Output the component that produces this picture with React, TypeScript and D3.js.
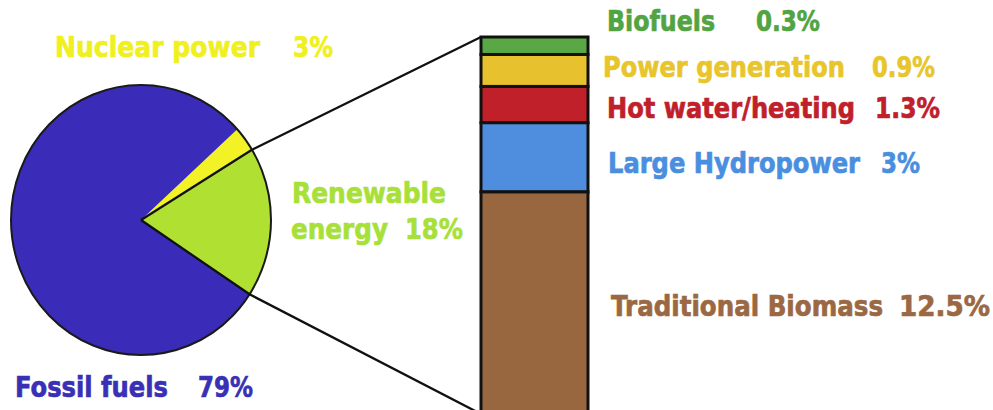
import React from "react";
import * as d3 from "d3";

// World energy consumption shares (%)
const shareLabels = ["Nuclear power", "Renewable energy", "Fossil fuels"];
const shareValues = [3, 18, 79];
const shareColors = ["#f2f226", "#b0e032", "#3a2cb8"];
const shareTextColors = ["#f0f020", "#a8e03a", "#3a30b6"];

// Breakdown of the renewable share (%), top to bottom
const renewableLabels = [
  "Biofuels",
  "Power generation",
  "Hot water/heating",
  "Large Hydropower",
  "Traditional Biomass",
];
const renewableValues = [0.3, 0.9, 1.3, 3, 12.5];
const renewableColors = ["#5aa845", "#e8c22e", "#c0202a", "#4f8ede", "#98673f"];
const renewableTextColors = ["#52a442", "#e8c52a", "#c0202a", "#4a8ee0", "#9a6843"];

const W = 993;
const H = 410;

// label layout: [x, width, baseline]
const shareLabelLayout: Record<string, number[][]> = {
  "Nuclear power": [[55, 205, 57]],
  "Renewable energy": [
    [292, 154, 203],
    [291, 97, 239],
  ],
  "Fossil fuels": [[15, 153, 397]],
};
const shareValueLayout = [
  [293, 40, 57],
  [405, 58, 239],
  [198, 55, 397],
];
// [name x, name width, value x, value width, baseline]
const renewableLabelLayout = [
  [607, 108, 756, 64, 31],
  [603, 242, 872, 63, 77],
  [607, 248, 875, 65, 118],
  [608, 252, 881, 39, 173],
  [611, 272, 899, 91, 316],
];

const FONT = "'DejaVu Sans', Verdana, sans-serif";
const FONT_SIZE = 24;
const V_STRETCH = 1.15;

function Label({ x, y, w, children }: { x: number; y: number; w: number; children: React.ReactNode }) {
  return (
    <text
      transform={`translate(${x},${y}) scale(1,${V_STRETCH})`}
      textLength={w}
      lengthAdjust="spacingAndGlyphs"
    >
      {children}
    </text>
  );
}

export default function App() {
  // pie geometry
  const cx = 141;
  const cy = 220;
  const r = 130;
  const yStretch = 135 / 130;

  const total = d3.sum(shareValues);
  const renewableIdx = 1;
  const renewableSpan = (shareValues[renewableIdx] / total) * 2 * Math.PI;
  // centre the renewable wedge just below 3 o'clock
  const renewableMid = Math.PI / 2 + (1 * Math.PI) / 180;
  const start = renewableMid - renewableSpan / 2 - (shareValues[0] / total) * 2 * Math.PI;

  const pie = d3
    .pie<number>()
    .sort(null)
    .startAngle(start)
    .endAngle(start + 2 * Math.PI);
  const arcs = pie(shareValues);
  const arcGen = d3.arc<d3.PieArcDatum<number>>().innerRadius(0).outerRadius(r);

  const ren = arcs[renewableIdx];
  const rim = (a: number) => [cx + r * Math.sin(a), cy - r * Math.cos(a) * yStretch];
  const rimTop = rim(ren.startAngle);
  const rimBottom = rim(ren.endAngle);

  // stacked bar for the renewable breakdown
  const barX = 481;
  const barW = 107;
  const barTop = 37;
  const barBottom = 414;
  const cumulative = d3.cumsum(renewableValues);
  const y = d3
    .scalePow()
    .exponent(0.75)
    .domain([0, d3.sum(renewableValues)])
    .range([barTop, barBottom]);
  const segments = renewableValues.map((v, i) => ({
    y0: y(cumulative[i] - v),
    y1: y(cumulative[i]),
    color: renewableColors[i],
  }));

  const pct = (v: number) => `${v}%`;

  return (
    <svg
      width={W}
      height={H}
      viewBox={`0 0 ${W} ${H}`}
      style={{ position: "absolute", left: 0, top: 0, background: "#fff" }}
    >
      {/* pie */}
      <g transform={`translate(${cx},${cy}) scale(1,${yStretch})`}>
        {arcs.map((a, i) => (
          <path key={i} d={arcGen(a) || ""} fill={shareColors[i]} />
        ))}
        <circle r={r} fill="none" stroke="#1a1a1a" strokeWidth={2} vectorEffect="non-scaling-stroke" />
      </g>

      {/* connectors from the pie centre through the renewable wedge to the bar */}
      <polyline
        points={`${cx},${cy} ${rimTop[0]},${rimTop[1]} ${barX},${barTop}`}
        fill="none"
        stroke="#111"
        strokeWidth={2.3}
        strokeLinejoin="round"
      />
      <polyline
        points={`${cx},${cy} ${rimBottom[0]},${rimBottom[1]} ${barX},${barBottom}`}
        fill="none"
        stroke="#111"
        strokeWidth={2.3}
        strokeLinejoin="round"
      />

      {/* stacked bar */}
      {segments.map((s, i) => (
        <rect
          key={i}
          x={barX}
          y={s.y0}
          width={barW}
          height={s.y1 - s.y0}
          fill={s.color}
          stroke="#111"
          strokeWidth={3}
        />
      ))}

      <g fontFamily={FONT} fontWeight="bold" fontSize={FONT_SIZE} strokeWidth={0.6}>
        {/* pie labels */}
        {shareLabels.map((label, i) => {
          const parts = label === "Renewable energy" ? ["Renewable", "energy"] : [label];
          const lay = shareLabelLayout[label];
          const [vx, vw, vy] = shareValueLayout[i];
          return (
            <g key={label} fill={shareTextColors[i]} stroke={shareTextColors[i]}>
              {parts.map((p, j) => (
                <Label key={p} x={lay[j][0]} y={lay[j][2]} w={lay[j][1]}>
                  {p}
                </Label>
              ))}
              <Label x={vx} y={vy} w={vw}>
                {pct(shareValues[i])}
              </Label>
            </g>
          );
        })}

        {/* breakdown labels */}
        {renewableLabels.map((label, i) => {
          const [nx, nw, vx, vw, by] = renewableLabelLayout[i];
          return (
            <g key={label} fill={renewableTextColors[i]} stroke={renewableTextColors[i]}>
              <Label x={nx} y={by} w={nw}>
                {label}
              </Label>
              <Label x={vx} y={by} w={vw}>
                {pct(renewableValues[i])}
              </Label>
            </g>
          );
        })}
      </g>
    </svg>
  );
}
